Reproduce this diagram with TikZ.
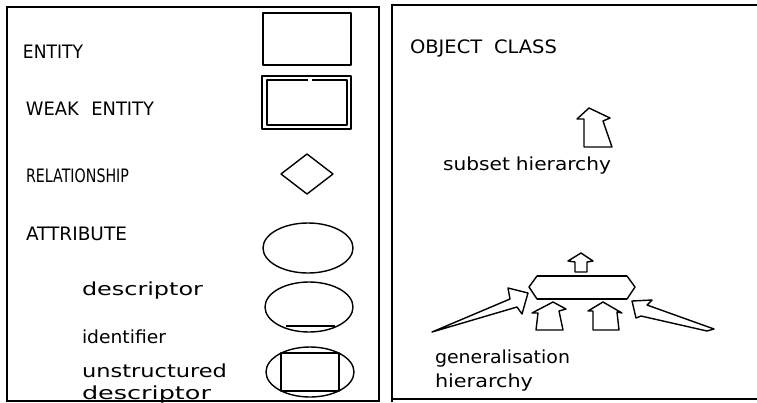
\documentclass[tikz,border=0pt]{standalone}
\usepackage{fontspec}
\setmainfont{DejaVu Sans}
\usepackage{graphicx}
\newcommand{\fitw}[2]{\resizebox{#1pt}{\height}{#2}}
\tikzset{
  lbl/.style={anchor=base west, inner sep=0pt, outer sep=0pt, font=\fontsize{18.5}{18.5}\selectfont},
  lbs/.style={anchor=base west, inner sep=0pt, outer sep=0pt, font=\fontsize{18}{18}\selectfont},
  frame/.style={line width=1.5pt},
  shp/.style={line width=1.4pt, line join=round},
  heavy/.style={line width=2.2pt}
}
\begin{document}
\begin{tikzpicture}[x=1pt,y=-1pt]
\useasboundingbox (0,0) rectangle (757,402);
% panels
\draw[frame] (7,402) -- (7,7) -- (379,7) -- (379,402);
\draw[frame] (7,401) -- (379,401);
\draw[frame] (392,402) -- (392,5) -- (757,5);
\draw[frame] (392,399) -- (757,399);
% left labels
\node[lbl] (tEnt) at (23,58) {\fitw{60}{ENTITY}};
\node[lbl] (tWeak) at (26,115) {\fitw{128}{WEAK\hspace{0.7em}ENTITY}};
\node[lbl] (tRel) at (26,182) {\fitw{103}{RELATIONSHIP}};
\node[lbl] (tAtt) at (26,240) {\fitw{101}{ATTRIBUTE}};
\node[lbs] (tDesc) at (82,295) {\fitw{121}{descriptor}};
\node[lbs] (tId) at (82,343) {\fitw{84}{identifier}};
\node[lbs] (tUns) at (82,377) {\fitw{145}{unstructured}};
\node[lbs] (tUns2) at (82,399) {\fitw{129}{descriptor}};
% entity
\draw[shp] (263,13) rectangle (351,65);
% weak entity
\draw[shp] (262,76) rectangle (351,129);
\draw[shp] (308,80) -- (267,80) -- (267,125) -- (347,125) -- (347,80) -- (312,80);
% relationship
\draw[shp] (281,174) -- (307,154) -- (333,174) -- (307,194) -- cycle;
% attribute
\draw[shp] (308,248) ellipse [x radius=45, y radius=25];
% descriptor
\draw[shp] (309,307) ellipse [x radius=44, y radius=25];
\draw[heavy] (286,326) -- (335,326);
% unstructured descriptor
\draw[shp] (310,372) ellipse [x radius=44, y radius=25];
\draw[shp] (281,353) rectangle (339,391);
\draw[heavy] (281,353) -- (339,353);
\draw[heavy] (281,391) -- (339,391);
% right panel
\node[lbl] (tObj) at (410,53) {\fitw{147}{OBJECT\hspace{0.6em}CLASS}};
\node[lbs] (tSub) at (443,170) {\fitw{168}{subset\hspace{0.3em}hierarchy}};
\node[lbs] (tGen) at (435,363) {\fitw{135}{generalisation}};
\node[lbs] (tHier) at (435,387) {\fitw{98}{hierarchy}};
% subset arrow
\draw[shp] (589,108) -- (610,118) -- (603,121) -- (612,147) -- (584,147) -- (584,119) -- (577,119) -- cycle;
% generalisation class box
\draw[shp] (529,287) -- (537,276) -- (627,276) -- (635,287) -- (627,299) -- (537,299) -- cycle;
\draw[heavy] (537,276) -- (627,276);
\draw[heavy] (537,299) -- (627,299);
% up arrow above box
\draw[shp] (581,253) -- (593,261) -- (587,262) -- (587,272) -- (575,272) -- (575,262) -- (568,261) -- cycle;
% long left arrow
\draw[shp] (432,332) -- (510,299) -- (508,288) -- (528,293) -- (522,314) -- (517,307) -- cycle;
% small left arrow
\draw[shp] (553,302) -- (566,309) -- (559,311) -- (563,330) -- (536,330) -- (538,313) -- (532,313) -- cycle;
% small right arrow
\draw[shp] (603,302) -- (622,313) -- (617,312) -- (619,330) -- (593,330) -- (593,311) -- (588,311) -- cycle;
% long right arrow
\draw[shp] (632,301) -- (652,300) -- (647,305) -- (714,329) -- (707,331) -- (641,316) -- (636,318) -- cycle;
\end{tikzpicture}
\end{document}
